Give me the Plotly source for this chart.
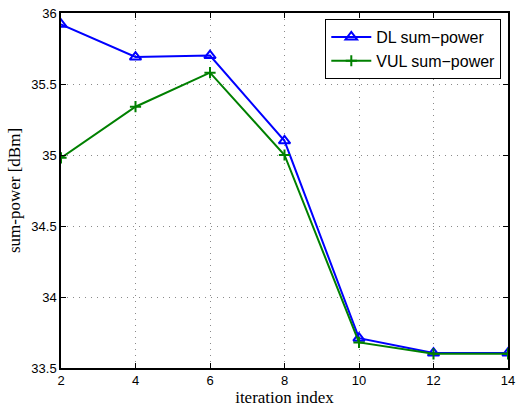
import plotly.graph_objects as go

iterations = [2, 4, 6, 8, 10, 12, 14]
dl_power = [35.92, 35.69, 35.70, 35.10, 33.71, 33.605, 33.605]
vul_power = [34.98, 35.34, 35.58, 35.00, 33.68, 33.60, 33.60]
x_ticks = [2, 4, 6, 8, 10, 12, 14]
y_ticks = [33.5, 34, 34.5, 35, 35.5, 36]
y_tick_text = ["33.5", "34", "34.5", "35", "35.5", "36"]

fig = go.Figure()
fig.add_trace(go.Scatter(
    x=iterations, y=dl_power, mode="lines+markers", name="DL sum\u2212power",
    line=dict(color="#0000ff", width=2),
    marker=dict(symbol="triangle-up-open", size=10, color="#0000ff", line=dict(width=2)),
))
fig.add_trace(go.Scatter(
    x=iterations, y=vul_power, mode="lines+markers", name="VUL sum\u2212power",
    line=dict(color="#008000", width=2),
    marker=dict(symbol="cross-thin-open", size=8, color="#008000", line=dict(width=2, color="#008000")),
))

axis_common = dict(
    showline=True, linecolor="black", linewidth=1.5, mirror="ticks",
    ticks="inside", ticklen=5, tickcolor="black",
    showgrid=True, gridcolor="#8a8a8a", griddash="1px,5px", gridwidth=1,
    zeroline=False,
    tickfont=dict(family="Liberation Sans, Arial", size=13, color="black"),
)

title_font = dict(family="Liberation Serif, Times New Roman", size=17, color="black")

fig.update_layout(
    width=521, height=410,
    margin=dict(l=61, r=6, t=10, b=42),
    paper_bgcolor="white", plot_bgcolor="white",
    xaxis=dict(range=[2, 14], tickvals=x_ticks,
               title=dict(text="iteration index", standoff=2, font=title_font),
               **axis_common),
    yaxis=dict(range=[33.5, 36], tickvals=y_ticks, ticktext=y_tick_text,
               title=dict(text="sum-power [dBm]", standoff=6, font=title_font),
               **axis_common),
    legend=dict(x=0.985, y=0.983, xanchor="right", yanchor="top",
                bgcolor="white", bordercolor="black", borderwidth=1,
                font=dict(family="Liberation Sans, Arial", size=16, color="black"),
                tracegroupgap=0, itemwidth=40),
    showlegend=True,
)

fig.write_html("out.html")
